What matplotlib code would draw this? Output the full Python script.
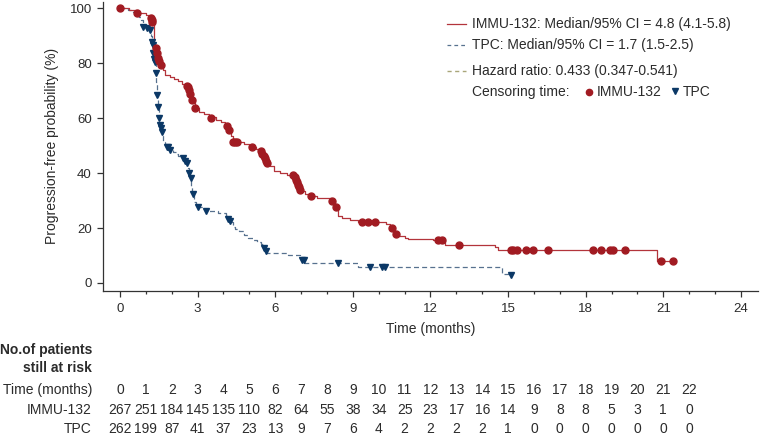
import matplotlib
matplotlib.use("Agg")
import matplotlib.pyplot as plt
import matplotlib.transforms as mtransforms
from matplotlib.lines import Line2D
from matplotlib.ticker import MultipleLocator

plt.rcParams['font.family'] = ['Liberation Sans', 'DejaVu Sans']

# --- Kaplan-Meier step curves (months, %) ---
immu_t = [0, 0.35, 0.7, 1.0, 1.25, 1.3, 1.33, 1.38, 1.45, 1.5, 1.58, 1.65, 1.74, 1.95,
          2.1, 2.25, 2.4, 2.55, 2.65, 2.72, 2.8, 2.88, 3.05, 3.25, 3.45, 3.7, 3.9,
          4.05, 4.15, 4.3, 4.38, 4.8, 5.0, 5.25, 5.45, 5.52, 5.6, 5.68, 5.8, 5.95,
          6.2, 6.45, 6.7, 6.8, 6.87, 6.93, 7.0, 7.15, 7.35, 7.6, 8.15, 8.3, 8.42,
          8.6, 8.9, 9.2, 10.3, 10.45, 10.6, 10.8, 11.0, 11.15, 12.1, 12.56, 14.5,
          14.62, 20.75, 21.4]
immu_s = [100, 99.2, 98.2, 97.3, 96.0, 94.8, 86.5, 84.5, 82.5, 81.0, 79.3, 77.5, 75.6, 75.0,
          74.3, 73.4, 72.5, 71.5, 70.4, 68.5, 66.5, 63.5, 62.3, 61.4, 60.3, 59.4, 58.5,
          57.3, 55.5, 53.5, 51.2, 50.6, 49.6, 48.8, 47.8, 46.6, 45.3, 44.1, 42.5, 40.6,
          40.0, 39.2, 38.5, 37.5, 36.2, 34.8, 33.5, 32.5, 31.6, 30.8, 30.0, 28.0, 24.2,
          23.6, 22.9, 22.3, 21.6, 20.2, 17.8, 17.2, 16.5, 16.1, 15.6, 13.8, 13.2,
          12.1, 8.0, 8.0]

tpc_t = [0, 0.3, 0.5, 0.62, 0.72, 0.82, 0.88, 1.05, 1.15, 1.2, 1.23, 1.27, 1.31, 1.35,
         1.38, 1.41, 1.44, 1.47, 1.5, 1.53, 1.57, 1.62, 1.66, 1.75, 1.85, 1.95, 2.05,
         2.15, 2.25, 2.38, 2.48, 2.55, 2.62, 2.67, 2.71, 2.75, 2.8, 2.86, 2.95, 3.2,
         3.45, 3.8, 4.1, 4.2, 4.28, 4.35, 4.45, 4.6, 4.8, 4.95, 5.15, 5.3, 5.45, 5.55,
         5.63, 5.7, 6.5, 6.95, 7.12, 9.2, 14.75, 15.1]
tpc_s = [100, 99.3, 98.6, 97.6, 96.8, 95.5, 93.8, 93.2, 92.2, 90.0, 87.7, 85.0, 83.0, 80.5,
         77.0, 73.0, 68.5, 64.2, 61.0, 58.0, 56.5, 54.5, 51.2, 50.2, 49.4, 48.3, 47.5,
         46.8, 46.2, 45.4, 44.5, 43.5, 41.8, 40.0, 38.0, 35.0, 32.5, 29.5, 27.8, 26.9,
         26.2, 25.6, 24.8, 23.3, 22.3, 20.5, 19.6, 18.8, 17.5, 16.5, 15.6, 14.9, 14.3, 12.8,
         11.7, 10.9, 10.3, 8.6, 7.3, 5.9, 3.2, 3.2]

# censoring marks
immu_cens_t = [0, 0.65, 1.18, 1.22, 1.25, 1.38, 1.42, 1.48, 1.52, 1.58, 2.58, 2.63, 2.68,
               2.72, 2.8, 2.88, 3.5, 4.12, 4.2, 4.38, 4.45, 4.52, 5.1, 5.45, 5.5, 5.55,
               5.6, 5.65, 5.7, 6.68, 6.75, 6.8, 6.85, 6.88, 6.92, 6.97, 7.4, 8.2, 8.33,
               9.35, 9.6, 9.85, 10.5, 10.65, 12.3, 12.43, 13.1, 15.1, 15.2, 15.33, 15.7,
               15.95, 16.55, 18.3, 18.6, 18.94, 19.04, 19.5, 20.93, 21.36]
immu_cens_s = [100, 98.2, 96.5, 95.5, 94.8, 85.3, 83.5, 82.0, 80.8, 79.3, 71.8, 71.2, 70.2,
               68.8, 66.5, 63.5, 60.0, 57.2, 55.6, 51.2, 51.2, 51.2, 49.4, 48.1, 47.0, 46.3,
               45.5, 44.5, 43.8, 39.2, 38.5, 37.6, 36.7, 35.8, 34.8, 33.8, 31.7, 30.0, 27.8,
               22.3, 22.3, 22.3, 20.1, 17.7, 15.5, 15.5, 13.8, 12.1, 12.1, 12.1, 12.1,
               12.1, 12.1, 12.1, 12.1, 12.1, 12.1, 12.1, 8.0, 8.0]
tpc_cens_t = [0.9, 1.03, 1.15, 1.22, 1.26, 1.29, 1.33, 1.35, 1.39, 1.44, 1.48, 1.52, 1.55,
              1.58, 1.62, 1.8, 1.85, 1.93, 2.45, 2.52, 2.58, 2.68, 2.73, 2.83, 3.0, 3.32,
              4.19, 4.25, 5.58, 5.63, 7.02, 7.1, 8.44, 9.66, 10.11, 10.24, 15.1]
tpc_cens_s = [93.2, 92.6, 92.0, 87.7, 86.5, 83.5, 81.5, 80.5, 76.2, 68.4, 64.0, 60.0, 57.5,
              56.5, 55.0, 49.6, 49.3, 48.4, 45.3, 44.3, 43.5, 40.0, 38.2, 32.3, 27.8, 26.2,
              23.3, 22.7, 12.6, 11.7, 8.5, 8.5, 7.3, 5.9, 5.9, 5.9, 3.0]

# number at risk table
risk_months = list(range(23))
risk_immu = [267, 251, 184, 145, 135, 110, 82, 64, 55, 38, 34, 25, 23, 17, 16, 14, 9, 8, 8, 5, 3, 1, 0]
risk_tpc = [262, 199, 87, 41, 37, 23, 13, 9, 7, 6, 4, 2, 2, 2, 2, 1, 0, 0, 0, 0, 0, 0, 0]

legend_lines = ["IMMU-132: Median/95% CI = 4.8 (4.1-5.8)",
                "TPC: Median/95% CI = 1.7 (1.5-2.5)",
                "Hazard ratio: 0.433 (0.347-0.541)"]

RED_LINE = "#b3343b"
RED_MARK = "#a11b22"
BLUE_LINE = "#57718f"
BLUE_MARK = "#0b3866"
HR_COL = "#a9a67a"
TXT = "#2b2b2b"

W, H = 760, 441


def fx(px):
    return px / W


def fy(py):
    return 1 - py / H


fig = plt.figure(figsize=(7.6, 4.41), dpi=100)
ax = fig.add_axes([fx(103), fy(290.5), (758 - 103) / W, (290.5 - 2) / H])

ax.plot(immu_t, immu_s, drawstyle="steps-post", color=RED_LINE, lw=0.9, zorder=3)
ax.plot(tpc_t, tpc_s, drawstyle="steps-post", color=BLUE_LINE, lw=0.9,
        dashes=(4, 2.5), zorder=2)
ax.plot(tpc_cens_t, tpc_cens_s, ls="none", marker="v", ms=5, color=BLUE_MARK, zorder=4)
ax.plot(immu_cens_t, immu_cens_s, ls="none", marker="o", ms=5, color=RED_MARK, zorder=5)

ax.set_xlim(-0.657, 24.66)
ax.set_ylim(-2.73, 102.2)
ax.xaxis.set_major_locator(MultipleLocator(3))
ax.xaxis.set_minor_locator(MultipleLocator(1))
ax.set_yticks(range(0, 101, 20))
for side in ("top", "right"):
    ax.spines[side].set_visible(False)
for side in ("left", "bottom"):
    ax.spines[side].set_color("#333333")
    ax.spines[side].set_linewidth(0.9)
ax.tick_params(axis="both", which="major", length=4, width=0.9, color="#333333",
               labelsize=9.5, labelcolor=TXT)
ax.tick_params(axis="x", which="major", pad=5)
ax.tick_params(axis="y", which="major", pad=4)
ax.tick_params(axis="x", which="minor", length=2.2, width=0.9, color="#333333")
ax.set_xlabel("Time (months)", fontsize=10, color=TXT, labelpad=5)
ax.set_ylabel("Progression-free probability (%)", fontsize=10, color=TXT, labelpad=8)

# legend drawn by hand
legend_y = [24, 45, 71]
legend_styles = [dict(color=RED_LINE, lw=0.9),
                 dict(color=BLUE_LINE, lw=0.9, dashes=(3, 2.5)),
                 dict(color=HR_COL, lw=1.0, dashes=(3, 2.5))]
for txt, y, st in zip(legend_lines, legend_y, legend_styles):
    fig.add_artist(Line2D([fx(447), fx(466)], [fy(y), fy(y)], transform=fig.transFigure, **st))
    fig.text(fx(472), fy(y), txt, fontsize=10, color=TXT, va="center", ha="left")
fig.text(fx(472), fy(92), "Censoring time:", fontsize=10, color=TXT, va="center")
fig.add_artist(Line2D([fx(589)], [fy(92)], marker="o", ms=4.5, color=RED_MARK,
                      transform=fig.transFigure))
fig.text(fx(597), fy(92), "IMMU-132", fontsize=10, color=TXT, va="center")
fig.add_artist(Line2D([fx(675)], [fy(91)], marker="v", ms=5, color=BLUE_MARK,
                      transform=fig.transFigure))
fig.text(fx(683), fy(92), "TPC", fontsize=10, color=TXT, va="center")

# number at risk table
tr = mtransforms.blended_transform_factory(ax.transData, fig.transFigure)
fig.text(fx(92), fy(350), "No.of patients", fontsize=10, fontweight="bold",
         color=TXT, ha="right", va="center")
fig.text(fx(92), fy(368), "still at risk", fontsize=10, fontweight="bold",
         color=TXT, ha="right", va="center")
rows = [("Time (months)", risk_months, 390), ("IMMU-132", risk_immu, 410), ("TPC", risk_tpc, 429)]
for label, vals, y in rows:
    fig.text(fx(92), fy(y), label, fontsize=10, color=TXT, ha="right", va="center")
    for m, v in zip(risk_months, vals):
        ax.text(m, fy(y), str(v), transform=tr, fontsize=10, color=TXT,
                ha="center", va="center", clip_on=False)

fig.savefig("out.png", dpi=100)
